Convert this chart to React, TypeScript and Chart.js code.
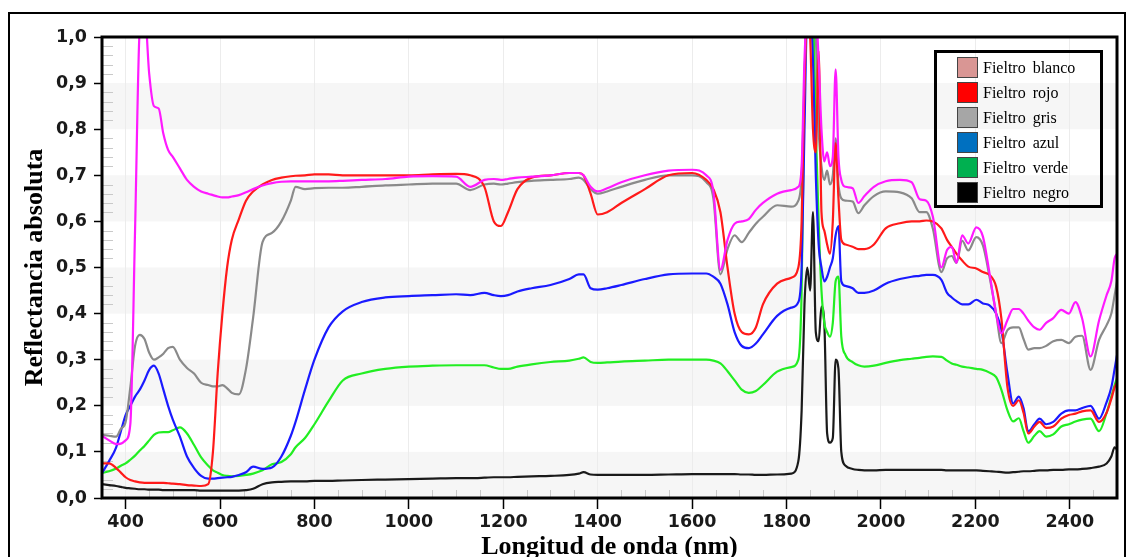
import React, { useEffect, useRef } from "react";
import { Chart, registerables } from "chart.js";

Chart.register(...registerables);

// ---------- data ----------
const wavelengths = [
  350, 365, 380, 390, 400, 410, 420, 430, 440, 450,
  460, 470, 480, 490, 500, 515, 530, 545, 560, 575,
  585, 595, 605, 615, 625, 640, 655, 670, 690, 710,
  730, 750, 760, 780, 800, 830, 860, 900, 950, 1000,
  1050, 1100, 1130, 1160, 1180, 1195, 1210, 1230, 1260, 1300,
  1340, 1360, 1370, 1385, 1400, 1420, 1450, 1500, 1550, 1600,
  1630, 1645, 1660, 1675, 1690, 1705, 1720, 1735, 1750, 1780,
  1810, 1825, 1832, 1838, 1844, 1850, 1856, 1862, 1868, 1874,
  1880, 1886, 1892, 1898, 1904, 1910, 1916, 1925, 1940, 1952,
  1965, 1985, 2010, 2040, 2065, 2082, 2096, 2110, 2128, 2140,
  2150, 2160, 2172, 2185, 2202, 2216, 2230, 2244, 2255, 2268,
  2280, 2292, 2302, 2312, 2325, 2336, 2350, 2365, 2382, 2398,
  2412, 2426, 2444, 2462, 2478, 2488, 2495, 2500,
];

const fieltroBlanco = [
  0.135, 0.125, 0.117, 0.118, 0.125, 0.16, 0.58, 1.02, 1.06, 0.92,
  0.85, 0.845, 0.79, 0.755, 0.74, 0.715, 0.69, 0.675, 0.665, 0.66,
  0.657, 0.654, 0.652, 0.652, 0.654, 0.657, 0.663, 0.67, 0.678, 0.683,
  0.686, 0.687, 0.687, 0.687, 0.687, 0.687, 0.688, 0.69, 0.692, 0.697,
  0.698, 0.697, 0.675, 0.69, 0.692, 0.69, 0.692, 0.695, 0.697, 0.7,
  0.705, 0.705, 0.7, 0.675, 0.665, 0.672, 0.685, 0.7, 0.71, 0.712,
  0.7, 0.665, 0.495, 0.56, 0.595, 0.6, 0.605, 0.625, 0.64, 0.66,
  0.668, 0.675, 0.72, 0.95, 1.05, 1.05, 1.05, 1.05, 0.95, 0.8,
  0.73, 0.75, 0.72, 0.74, 0.93, 0.74, 0.69, 0.675, 0.672, 0.64,
  0.655, 0.675, 0.687, 0.69, 0.685, 0.648, 0.645, 0.61, 0.5, 0.538,
  0.545, 0.51, 0.57, 0.552, 0.587, 0.567, 0.487, 0.4, 0.357, 0.386,
  0.41, 0.41, 0.4, 0.385, 0.37, 0.365, 0.38, 0.39, 0.408, 0.4,
  0.425, 0.39, 0.307, 0.385, 0.44, 0.47, 0.52, 0.53,
];

const fieltroRojo = [
  0.075, 0.075, 0.065, 0.055, 0.045, 0.039, 0.036, 0.034, 0.033, 0.033,
  0.033, 0.033, 0.033, 0.032, 0.031, 0.03, 0.028, 0.027, 0.026, 0.03,
  0.1, 0.27, 0.4, 0.5, 0.56, 0.605, 0.645, 0.665, 0.68, 0.69,
  0.695, 0.698, 0.699, 0.7, 0.702, 0.702, 0.7, 0.7, 0.7, 0.7,
  0.702, 0.703, 0.7, 0.675, 0.6, 0.59, 0.62, 0.67, 0.695, 0.7,
  0.705, 0.705, 0.7, 0.66, 0.615, 0.62, 0.64, 0.67, 0.7, 0.705,
  0.69, 0.67, 0.62, 0.5, 0.4, 0.36, 0.355, 0.37, 0.42, 0.465,
  0.478, 0.5, 0.6, 0.9, 1.05, 1.0, 0.8, 0.75, 0.97, 0.62,
  0.58, 0.55, 0.53, 0.6, 0.77, 0.65, 0.56, 0.55, 0.545, 0.54,
  0.54, 0.55, 0.585, 0.596, 0.6, 0.6, 0.602, 0.6, 0.585, 0.56,
  0.545, 0.53, 0.515, 0.502, 0.498, 0.49, 0.484, 0.458, 0.39, 0.24,
  0.2, 0.212, 0.185, 0.14, 0.155, 0.165, 0.152, 0.155, 0.172, 0.18,
  0.183, 0.188, 0.19, 0.165, 0.185, 0.215, 0.24, 0.25,
];

const fieltroGris = [
  0.137, 0.135, 0.133, 0.15, 0.165, 0.24, 0.33, 0.354, 0.345, 0.315,
  0.3, 0.305, 0.313, 0.325, 0.328, 0.3, 0.282, 0.27, 0.25, 0.245,
  0.242, 0.242, 0.245, 0.238, 0.228, 0.225, 0.28, 0.39, 0.555, 0.575,
  0.6, 0.645, 0.675, 0.67, 0.672, 0.673, 0.673, 0.675, 0.678, 0.68,
  0.682, 0.682, 0.668, 0.68, 0.682, 0.68, 0.682, 0.685, 0.688, 0.69,
  0.692, 0.695, 0.69, 0.67, 0.66, 0.665, 0.675, 0.69, 0.7, 0.7,
  0.685, 0.65, 0.485, 0.54, 0.57, 0.555, 0.575, 0.595, 0.61, 0.635,
  0.632, 0.645, 0.7, 0.9, 1.05, 1.05, 1.05, 1.0, 0.8, 0.72,
  0.69, 0.71, 0.68, 0.7, 0.78, 0.68, 0.65, 0.645, 0.643, 0.618,
  0.635, 0.655, 0.665, 0.663, 0.65, 0.62, 0.62, 0.584, 0.49, 0.52,
  0.525, 0.51, 0.558, 0.537, 0.566, 0.548, 0.48, 0.4, 0.336, 0.364,
  0.37, 0.37, 0.345, 0.322, 0.325, 0.325, 0.33, 0.34, 0.343, 0.336,
  0.35, 0.352, 0.278, 0.343, 0.375, 0.4, 0.44, 0.47,
];

const fieltroAzul = [
  0.054, 0.08, 0.11, 0.145, 0.18, 0.2, 0.22, 0.235, 0.255, 0.278,
  0.287, 0.27, 0.235, 0.2, 0.17, 0.133, 0.09, 0.065, 0.048, 0.042,
  0.042, 0.043, 0.044, 0.045, 0.046, 0.05, 0.056, 0.068, 0.063, 0.066,
  0.09, 0.135, 0.165, 0.235, 0.3, 0.37, 0.405, 0.425, 0.435, 0.438,
  0.44, 0.442, 0.44, 0.445, 0.44, 0.438, 0.44, 0.448, 0.455, 0.462,
  0.475, 0.485, 0.485, 0.455, 0.452, 0.455, 0.462, 0.475, 0.485, 0.487,
  0.487, 0.48, 0.465, 0.42, 0.36, 0.33, 0.325, 0.335, 0.355, 0.395,
  0.413, 0.425, 0.5, 0.8, 1.05, 1.05, 0.95, 0.7, 0.55, 0.5,
  0.47, 0.48, 0.5, 0.52, 0.57, 0.59, 0.47, 0.46, 0.455, 0.445,
  0.445, 0.45, 0.465, 0.475, 0.48, 0.482, 0.484, 0.484, 0.473, 0.445,
  0.435, 0.427, 0.42, 0.42, 0.43, 0.422, 0.418, 0.4, 0.365, 0.27,
  0.205, 0.22, 0.195, 0.144, 0.16, 0.172, 0.16, 0.165, 0.183, 0.19,
  0.19, 0.195, 0.2, 0.172, 0.208, 0.24, 0.28, 0.31,
];

const fieltroVerde = [
  0.054, 0.058, 0.064, 0.07, 0.075, 0.083, 0.092, 0.103, 0.113, 0.125,
  0.137, 0.142, 0.143, 0.143, 0.147, 0.153, 0.14, 0.115, 0.088, 0.07,
  0.06, 0.055, 0.05, 0.048, 0.047, 0.048, 0.05, 0.053, 0.06, 0.073,
  0.078, 0.095, 0.11, 0.13, 0.16, 0.21, 0.255, 0.27, 0.28, 0.285,
  0.287, 0.288, 0.288, 0.288, 0.283, 0.28, 0.28, 0.285, 0.29, 0.295,
  0.298, 0.302, 0.305, 0.295, 0.293, 0.294, 0.296, 0.298, 0.3, 0.3,
  0.3, 0.298, 0.292, 0.275, 0.255, 0.235, 0.228, 0.232, 0.245, 0.274,
  0.284, 0.3, 0.45, 0.9, 1.05, 1.05, 1.05, 0.8, 0.6, 0.45,
  0.38, 0.36, 0.35, 0.38, 0.47, 0.48, 0.35, 0.31, 0.295, 0.288,
  0.285, 0.287, 0.293, 0.299, 0.302, 0.304, 0.306, 0.307, 0.306, 0.298,
  0.292, 0.289, 0.285, 0.283, 0.28, 0.278, 0.272, 0.262, 0.235, 0.19,
  0.166, 0.173, 0.145, 0.12, 0.135, 0.145, 0.133, 0.138, 0.155, 0.16,
  0.166, 0.17, 0.172, 0.145, 0.185, 0.22, 0.245, 0.26,
];

const fieltroNegro = [
  0.03, 0.028, 0.026, 0.024, 0.022, 0.021, 0.02, 0.019, 0.019, 0.018,
  0.018, 0.018, 0.017, 0.017, 0.017, 0.017, 0.017, 0.017, 0.016, 0.016,
  0.016, 0.016, 0.016, 0.016, 0.016, 0.016, 0.017, 0.02, 0.03, 0.034,
  0.035, 0.036, 0.036, 0.036, 0.037, 0.037, 0.038, 0.039, 0.04, 0.041,
  0.042, 0.043, 0.043, 0.044, 0.045, 0.045, 0.045, 0.046, 0.047, 0.048,
  0.05, 0.053, 0.056, 0.051, 0.05, 0.05, 0.05, 0.05, 0.051, 0.052,
  0.052, 0.052, 0.052, 0.052, 0.052, 0.051, 0.051, 0.05, 0.05, 0.051,
  0.053, 0.08, 0.19, 0.42, 0.5, 0.45, 0.62, 0.36, 0.34, 0.415,
  0.38, 0.14, 0.12, 0.13, 0.3, 0.28, 0.1, 0.07, 0.063, 0.061,
  0.06, 0.06, 0.061, 0.061, 0.061, 0.061, 0.061, 0.061, 0.061, 0.06,
  0.06, 0.06, 0.06, 0.06, 0.06, 0.059, 0.058, 0.057, 0.056, 0.055,
  0.056, 0.057, 0.058, 0.058, 0.059, 0.06, 0.06, 0.061, 0.061, 0.062,
  0.062, 0.063, 0.065, 0.068, 0.075, 0.09, 0.11, 0.105,
];

const seriesNames = [
  "Fieltro blanco",
  "Fieltro rojo",
  "Fieltro gris",
  "Fieltro azul",
  "Fieltro verde",
  "Fieltro negro",
];
const seriesValues = [
  fieltroBlanco,
  fieltroRojo,
  fieltroGris,
  fieltroAzul,
  fieltroVerde,
  fieltroNegro,
];

const xTickValues = [400, 600, 800, 1000, 1200, 1400, 1600, 1800, 2000, 2200, 2400];
const yTickValues = [0, 0.1, 0.2, 0.3, 0.4, 0.5, 0.6, 0.7, 0.8, 0.9, 1.0];

// ---------- styles ----------
const lineColors = ["#ff1aff", "#ff1a1a", "#8a8a8a", "#1a1aff", "#22ee22", "#1a1a1a"];
const swatchColors = ["#d99694", "#ff0000", "#a6a6a6", "#0070c0", "#00b050", "#000000"];

const decorPlugin = {
  id: "decor",
  beforeDraw(chart: any) {
    const { ctx, chartArea: a, scales } = chart;
    const y = scales.y;
    ctx.save();
    ctx.fillStyle = "#f6f6f6";
    for (let i = 0; i + 1 < yTickValues.length; i += 2) {
      const p0 = y.getPixelForValue(yTickValues[i]);
      const p1 = y.getPixelForValue(yTickValues[i + 1]);
      ctx.fillRect(a.left, p1, a.right - a.left, p0 - p1);
    }
    ctx.restore();
  },
  beforeDatasetsDraw(chart: any) {
    const { ctx, chartArea: a, scales } = chart;
    const x = scales.x;
    const y = scales.y;
    ctx.save();
    ctx.strokeStyle = "#c9c9c9";
    ctx.lineWidth = 1;
    ctx.beginPath();
    for (let v = x.min; v <= x.max; v += 50) {
      if (v % 200 === 0) continue;
      const px = Math.round(x.getPixelForValue(v)) + 0.5;
      ctx.moveTo(px, a.bottom);
      ctx.lineTo(px, a.bottom - 8);
    }
    for (let k = 1; k < 50; k++) {
      if (k % 5 === 0) continue;
      const py = Math.round(y.getPixelForValue(k * 0.02)) + 0.5;
      ctx.moveTo(a.left, py);
      ctx.lineTo(a.left + 11, py);
    }
    ctx.stroke();
    ctx.restore();
  },
  afterDraw(chart: any) {
    const { ctx, chartArea: a } = chart;
    ctx.save();
    ctx.strokeStyle = "#000";
    ctx.lineWidth = 3;
    ctx.strokeRect(a.left, a.top, a.right - a.left, a.bottom - a.top);
    ctx.restore();
  },
};

export default function App() {
  const canvasRef = useRef<HTMLCanvasElement | null>(null);

  useEffect(() => {
    const canvas = canvasRef.current;
    if (!canvas) return;
    const chart = new Chart(canvas, {
      type: "line",
      data: {
        datasets: seriesNames.map((name, s) => ({
          label: name,
          data: wavelengths.map((w, i) => ({ x: w, y: seriesValues[s][i] })),
          borderColor: lineColors[s],
          backgroundColor: lineColors[s],
          borderWidth: 2.2,
          pointRadius: 0,
          cubicInterpolationMode: "monotone" as const,
          fill: false,
        })),
      },
      options: {
        responsive: false,
        animation: false,
        layout: { padding: { left: 8, top: 37, right: 15, bottom: 0 } },
        plugins: { legend: { display: false }, tooltip: { enabled: false } },
        scales: {
          x: {
            type: "linear",
            min: 350,
            max: 2500,
            afterBuildTicks: (s: any) => {
              s.ticks = xTickValues.map((v) => ({ value: v }));
            },
            afterFit: (s: any) => {
              s.height = 59;
            },
            ticks: {
              autoSkip: false,
              maxRotation: 0,
              padding: 3,
              color: "#1a1a1a",
              font: { family: "'DejaVu Sans', sans-serif", size: 17.5, weight: "bold" },
              callback: (v: any) => String(v),
            },
            grid: {
              color: "#ececec",
              lineWidth: 1,
              tickColor: "#000",
              tickLength: 11,
              tickWidth: 1.5,
            },
            border: { display: false },
            title: {
              display: true,
              text: "Longitud de onda (nm)",
              color: "#000",
              font: { family: "'Liberation Serif', 'Times New Roman', serif", size: 26, weight: "bold", lineHeight: 1 },
              padding: { top: 0, bottom: -3 },
            },
          },
          y: {
            type: "linear",
            min: 0,
            max: 1,
            afterBuildTicks: (s: any) => {
              s.ticks = yTickValues.map((v) => ({ value: v }));
            },
            afterFit: (s: any) => {
              s.width = 94;
            },
            ticks: {
              padding: 7,
              color: "#1a1a1a",
              font: { family: "'DejaVu Sans', sans-serif", size: 17.5, weight: "bold" },
              callback: (v: any) => Number(v).toFixed(1).replace(".", ","),
            },
            grid: {
              drawOnChartArea: false,
              tickColor: "#000",
              tickLength: 8,
              tickWidth: 1.5,
            },
            border: { display: false },
            title: {
              display: true,
              text: "Reflectancia absoluta",
              color: "#000",
              font: { family: "'Liberation Serif', 'Times New Roman', serif", size: 26, weight: "bold", lineHeight: 1 },
              padding: { top: 14, bottom: 0 },
            },
          },
        },
      },
      plugins: [decorPlugin],
    });
    return () => chart.destroy();
  }, []);

  return (
    <div
      style={{
        position: "fixed",
        left: 0,
        top: 0,
        width: 1132,
        height: 557,
        overflow: "hidden",
        background: "#fff",
      }}
    >
      <div
        style={{
          position: "absolute",
          left: 8,
          top: 12,
          width: 1114,
          height: 580,
          border: "2px solid #000",
        }}
      />
      <canvas
        ref={canvasRef}
        width={1132}
        height={557}
        style={{ position: "absolute", left: 0, top: 0, width: 1132, height: 557 }}
      />
      <div
        style={{
          position: "absolute",
          left: 934,
          top: 50,
          width: 163,
          height: 152,
          border: "3px solid #000",
        }}
      >
        {seriesNames.map((name, i) => (
          <div
            key={name}
            style={{
              position: "absolute",
              left: 20,
              top: 4 + i * 25,
              height: 21,
              display: "flex",
              alignItems: "center",
              whiteSpace: "nowrap",
            }}
          >
            <span
              style={{
                display: "inline-block",
                width: 19,
                height: 19,
                background: swatchColors[i],
                border: "1px solid #444",
              }}
            />
            <span
              style={{
                marginLeft: 5,
                fontFamily: "'Liberation Serif', 'Times New Roman', serif",
                fontSize: 16,
                wordSpacing: 3,
                color: "#000",
              }}
            >
              {name}
            </span>
          </div>
        ))}
      </div>
    </div>
  );
}
